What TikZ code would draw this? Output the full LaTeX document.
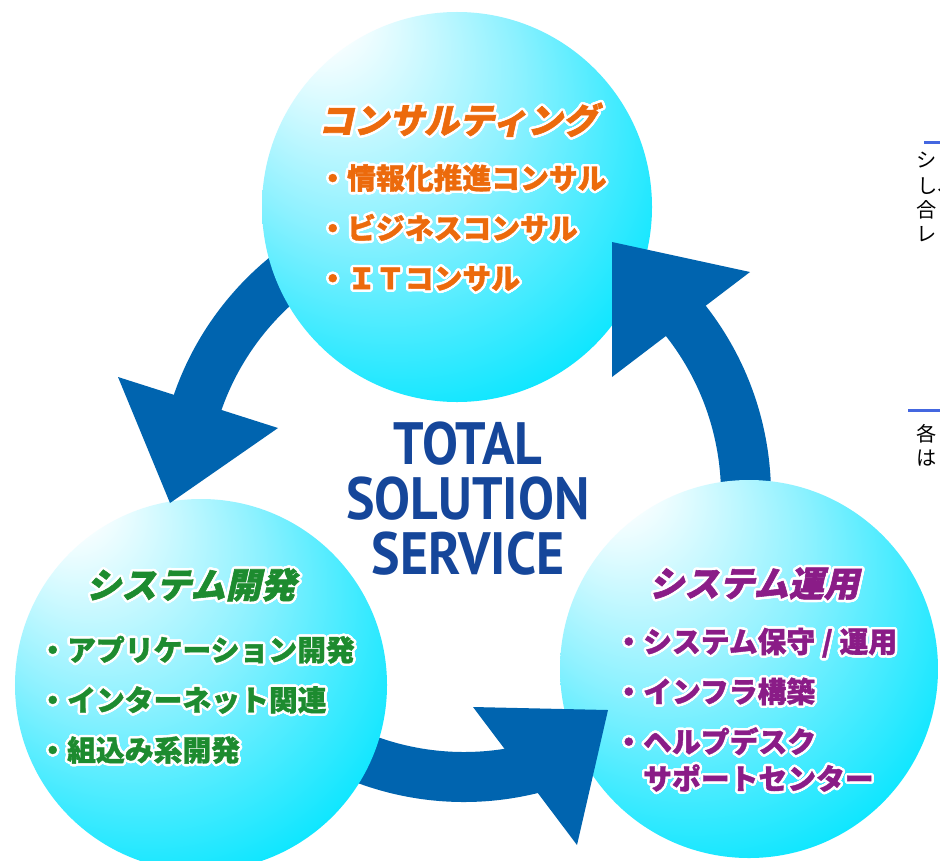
\documentclass[tikz,border=0pt]{standalone}
\usepackage{fontspec}
\usepackage{contour}
\usetikzlibrary{calc}
\newfontfamily\jpfont[BoldFeatures={FakeBold=1.2}]{Noto Sans CJK JP}
\newfontfamily\jptitlefont[FakeSlant=0.22,BoldFeatures={FakeBold=1.6}]{Noto Sans CJK JP}
\newfontfamily\logofont[FakeStretch=0.9]{PT Sans}
\definecolor{arrowblue}{HTML}{0064AF}
\definecolor{bubbleedge}{HTML}{00E5FF}
\definecolor{bubblemid}{HTML}{8CF1FF}
\definecolor{consultorange}{HTML}{EC6A0C}
\definecolor{devgreen}{HTML}{1D8B2F}
\definecolor{opspurple}{HTML}{8A1C87}
\definecolor{logoblue}{HTML}{15469A}
\definecolor{ruleblue}{HTML}{4467E0}
\pgfdeclareradialshading{bubbleshade}{\pgfpoint{-20bp}{28bp}}{%
  color(0bp)=(white); color(4bp)=(white); color(20bp)=(bubblemid);
  color(37bp)=(bubbleedge); color(50bp)=(bubbleedge)}
\contourlength{1.4pt}
\contournumber{24}

\begin{document}
\begin{tikzpicture}[
  x=0.2mm,y=-0.2mm,
  bubble/.style={circle,inner sep=0pt,shade,shading=bubbleshade},
  band/.style={draw=arrowblue,line width=10mm},
  head/.style={fill=arrowblue},
  bubbletitle/.style={font=\jptitlefont\bfseries\fontsize{20}{24}\selectfont,
                      inner sep=0pt},
  itemlist/.style={font=\jpfont\bfseries\fontsize{16.4}{28.5}\selectfont,
                   align=left,anchor=west,inner sep=0pt},
  logo/.style={font=\logofont\bfseries\fontsize{34}{31.3}\selectfont,
               text=logoblue,align=center,inner sep=0pt},
  pagetext/.style={font=\jpfont\fontsize{11.5}{12}\selectfont,anchor=west,
                   inner sep=0pt,text=black}
]
\useasboundingbox (0,0) rectangle (940,860);
\clip (0,0) rectangle (940,860);
\fill[white] (0,0) rectangle (940,860);

\coordinate (hub) at (464,495);

% Arrow shafts (tails run under the circles).
\draw[band] ($(hub)+(-110:282)$) arc[start angle=-110,end angle=-163,radius=282];
\draw[band] ($(hub)+(120:282)$) arc[start angle=120,end angle=75,radius=282];
\draw[band] ($(hub)+(30:282)$) arc[start angle=30,end angle=-41,radius=282];

% Circles.
\node[bubble,minimum size=78mm] (consult) at (457,207) {};
\node[bubble,minimum size=74.4mm] (develop) at (201,685) {};
\node[bubble,minimum size=75.6mm] (operate) at (749,669) {};

% Arrow heads.
\fill[head] (118,377) -- (170,503) -- (278,428) -- cycle;
\fill[head] (473,707) -- (608,710) -- (577,845) -- cycle;
\fill[head] (612,377) -- (612,242) -- (750,272) -- cycle;

% -------------------------------------------------------------------------
% Consulting.
\node[bubbletitle,text=consultorange] (consult-title) at (458,121)
  {\contour{white}{コンサルティング}};
\node[itemlist,text=consultorange] (consult-list) at (318,229)
  {\contour{white}{・情報化推進コンサル}\\
   \contour{white}{・ビジネスコンサル}\\
   \contour{white}{・ＩＴコンサル}};

% -------------------------------------------------------------------------
% Development.
\node[bubbletitle,text=devgreen] (develop-title) at (191,586)
  {\contour{white}{システム開発}};
\node[itemlist,text=devgreen] (develop-list) at (38,701)
  {\contour{white}{・アプリケーション開発}\\
   \contour{white}{・インターネット関連}\\
   \contour{white}{・組込み系開発}};

% -------------------------------------------------------------------------
% Operation.
\node[bubbletitle,text=opspurple] (operate-title) at (754,585)
  {\contour{white}{システム運用}};
\node[itemlist,text=opspurple] (operate-list) at (614,711)
  {\contour{white}{・システム保守 / 運用}\\
   \contour{white}{・インフラ構築}\\
   \contour{white}{・ヘルプデスク}\\[-7.5pt]
   \hphantom{・}\contour{white}{サポートセンター}};

% Centre label.
\node[logo] (logo) at (468,499) {TOTAL\\SOLUTION\\SERVICE};

% Page text cut at the right edge.
\draw[ruleblue,line width=0.6mm] (924,142.5) -- (940,142.5);
\node[pagetext] (line-a) at (916,160) {シ};
\node[pagetext] (line-b) at (917,186) {し、};
\node[pagetext] (line-c) at (916,210) {合};
\node[pagetext] (line-d) at (916,234) {レ};
\draw[ruleblue,line width=0.6mm] (908,410) -- (940,410);
\node[pagetext] (line-e) at (916,434) {各};
\node[pagetext] (line-f) at (916,458) {は};

\end{tikzpicture}
\end{document}
